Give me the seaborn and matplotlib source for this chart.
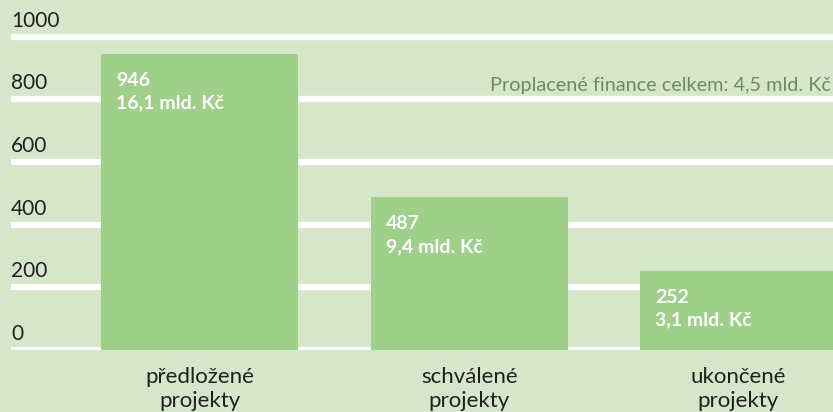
import matplotlib
matplotlib.use("Agg")
import matplotlib.pyplot as plt
import matplotlib.transforms as mtransforms
import seaborn as sns
import pandas as pd

categories = ["předložené\nprojekty", "schválené\nprojekty", "ukončené\nprojekty"]
counts = [946, 487, 252]
amounts = ["16,1 mld. Kč", "9,4 mld. Kč", "3,1 mld. Kč"]
y_ticks = [0, 200, 400, 600, 800, 1000]
note = "Proplacené finance celkem: 4,5 mld. Kč"

bg = "#d6e6cb"
bar_color = "#9fd08a"
font = ["Lato", "DejaVu Sans"]

sns.set_theme(style="white")
plt.rcParams["font.family"] = font

df = pd.DataFrame({"kategorie": categories, "pocet": counts})

fig = plt.figure(figsize=(8.33, 4.12), dpi=100, facecolor=bg)
ax = fig.add_axes([11 / 833, 62 / 412, 1 - 11 / 833, 332 / 412])
ax.set_facecolor(bg)

# white gridlines under the bars
for t in y_ticks:
    ax.axhline(t, color="white", lw=4.5, zorder=0)

sns.barplot(data=df, x="kategorie", y="pocet", color=bar_color, width=0.732,
            saturation=1, linewidth=0, ax=ax, zorder=2)

ax.set_xlim(-0.7016, 2.351)
ax.set_ylim(0, 1060)
for s in ax.spines.values():
    s.set_visible(False)
ax.set_yticks([])
ax.set_xlabel("")
ax.set_ylabel("")
ax.tick_params(axis="x", length=0, pad=12, labelsize=16, labelcolor="#231f20")
for lab in ax.get_xticklabels():
    lab.set_linespacing(1.25)

# y labels sit above the gridlines
lab_tr = ax.get_yaxis_transform() + mtransforms.ScaledTranslation(0, 6 / 100, fig.dpi_scale_trans)
for t in y_ticks:
    ax.text(0, t, str(t), transform=lab_tr, ha="left", va="bottom",
            fontsize=15, color="#231f20", zorder=3)

# bar labels
for i, p in enumerate(ax.patches):
    x0 = p.get_x()
    top = p.get_height()
    tr = ax.transData + mtransforms.ScaledTranslation(15 / 100, -18 / 100, fig.dpi_scale_trans)
    ax.text(x0, top, f"{counts[i]}\n{amounts[i]}", transform=tr, ha="left", va="top",
            fontsize=14, fontweight="bold", color="white", linespacing=1.4, zorder=4)

note_tr = ax.get_yaxis_transform() + mtransforms.ScaledTranslation(0, 5 / 100, fig.dpi_scale_trans)
ax.text(0.997, 800, note, transform=note_tr, ha="right", va="bottom",
        fontsize=14.3, color="#6e8c5a", zorder=3)

fig.savefig("out.png", dpi=100, facecolor=bg)
